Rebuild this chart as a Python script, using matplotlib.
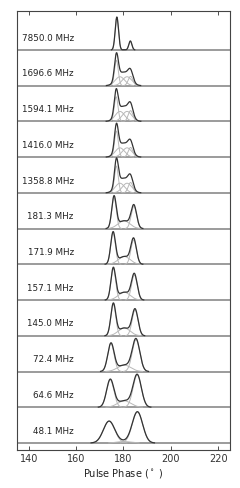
import numpy as np
import matplotlib
matplotlib.use("Agg")
import matplotlib.pyplot as plt

# Frequencies (top to bottom)
freqs = [7850.0, 1696.6, 1594.1, 1416.0, 1358.8, 181.3, 171.9, 157.1, 145.0, 72.4, 64.6, 48.1]

# Narrow leading component
c1 = [177.2, 177.0, 176.9, 177.0, 177.0, 176.0, 175.6, 175.7, 175.7, 174.7, 174.4, 173.9]
a1 = [0.92, 0.71, 0.69, 0.73, 0.75, 0.87, 0.88, 0.88, 0.88, 0.78, 0.77, 0.61]
s1 = [0.7, 0.8, 0.8, 0.8, 0.8, 0.95, 1.0, 1.0, 1.05, 1.35, 1.55, 2.4]

# Narrow trailing component
c2 = [182.9, 183.0, 183.0, 183.0, 183.0, 184.4, 184.3, 184.6, 184.9, 185.3, 185.8, 185.9]
a2 = [0.25, 0.26, 0.30, 0.27, 0.29, 0.62, 0.68, 0.70, 0.72, 0.89, 0.90, 0.87]
s2 = [0.65, 1.0, 1.0, 1.0, 1.0, 1.15, 1.15, 1.2, 1.25, 1.6, 1.75, 2.2]

# Broad component A (bridge / leading skirt)
cb1 = [180.0, 178.5, 178.5, 178.5, 178.5, 180.2, 180.3, 180.3, 180.3, 180.3, 180.3, 180.2]
ab1 = [0.0, 0.25, 0.28, 0.26, 0.27, 0.22, 0.22, 0.22, 0.22, 0.18, 0.18, 0.04]
sb1 = [2.0, 2.0, 2.0, 2.0, 2.0, 2.5, 2.5, 2.5, 2.5, 2.8, 2.8, 3.0]

# Broad component B (trailing skirt, high frequencies only)
cb2 = [181.5, 181.5, 181.5, 181.5, 181.5, 181.5, 181.5, 181.5, 181.5, 181.5, 181.5, 181.5]
ab2 = [0.0, 0.25, 0.28, 0.26, 0.27, 0.0, 0.0, 0.0, 0.0, 0.0, 0.0, 0.0]
sb2 = [2.0, 2.0, 2.0, 2.0, 2.0, 2.0, 2.0, 2.0, 2.0, 2.0, 2.0, 2.0]

xticks = [140, 160, 180, 200, 220]


def gauss(x, c, a, s):
    return a * np.exp(-0.5 * ((x - c) / s) ** 2)


fig = plt.figure(figsize=(2.40, 4.89), dpi=100)
ax = fig.add_axes([0.071, 0.0777, 0.887, 0.8978])

x = np.linspace(155, 205, 1500)
n = len(freqs)
for k, f in enumerate(freqs):
    base = n - 1 - k
    comps = [gauss(x, c1[k], a1[k], s1[k]),
             gauss(x, c2[k], a2[k], s2[k]),
             gauss(x, cb1[k], ab1[k], sb1[k]),
             gauss(x, cb2[k], ab2[k], sb2[k])]
    ax.axhline(base, color="#8a8a8a", lw=1.2, zorder=1)
    tot = np.zeros_like(x)
    for g in comps:
        tot += g
        if g.max() <= 0:
            continue
        m = g > 0.004
        ax.plot(x[m], base + g[m], color="#b8b8b8", lw=0.7, zorder=2)
    m = tot > 0.004
    ax.plot(x[m], base + tot[m], color="#333333", lw=0.9, zorder=3)
    ax.text(159.0, base + 0.36, f"{f:.1f} MHz", ha="right", va="center",
            fontsize=6.3, color="#222222")

ax.set_xlim(135, 225)
ax.set_ylim(-0.196, 12.09)
ax.set_xticks(xticks)
ax.set_yticks([])
ax.tick_params(axis="x", direction="in", top=True, labelsize=7, length=3,
               width=0.6, pad=2, colors="#333333")
for sp in ax.spines.values():
    sp.set_color("#444444")
    sp.set_linewidth(0.8)
ax.set_xlabel(r"Pulse Phase ($^\circ$ )", fontsize=7, labelpad=2, color="#222222")

fig.savefig("out.png", dpi=100)
